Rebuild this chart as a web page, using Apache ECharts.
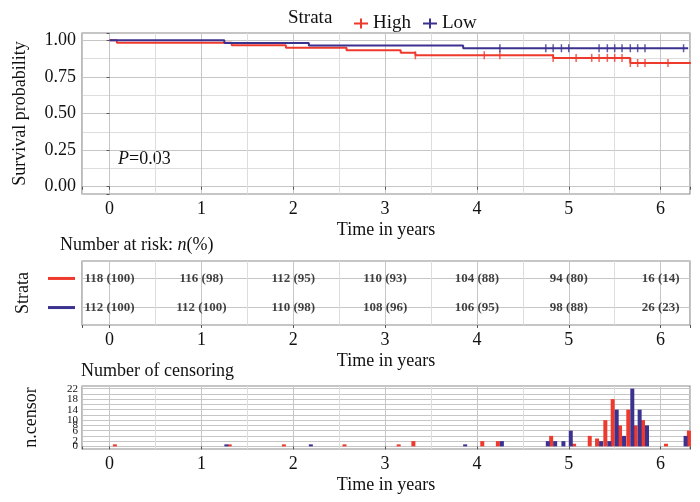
<!DOCTYPE html>
<html>
<head>
<meta charset="utf-8">
<script src="https://cdn.jsdelivr.net/npm/echarts@6/dist/echarts.min.js"></script>
<style>
html,body{margin:0;padding:0;background:#fff}
#chart{width:700px;height:502px}
</style>
</head>
<body>
<div id="chart"></div>
<script>
// survival curves (step points)
const highTime = [0, 0.08, 1.33, 1.92, 2.58, 3.17, 3.33, 4.83, 5.67, 6.33];
const highSurv = [1, 0.983, 0.966, 0.949, 0.932, 0.915, 0.898, 0.880, 0.845, 0.845];
const lowTime = [0, 1.25, 2.17, 3.85, 6.3];
const lowSurv = [1, 0.982, 0.964, 0.946, 0.946];

// number of censoring per time (0 = event time only)
const highCensorTime = [0.08, 1.33, 1.92, 2.58, 3.17, 3.33, 4.08, 4.25, 4.83, 5.08, 5.25, 5.33, 5.42, 5.5, 5.58, 5.67, 5.75, 5.83, 6.08, 6.33];
const highCensorN = [0, 0, 0, 0, 0, 2, 2, 2, 4, 1, 4, 3, 10, 18, 8, 14, 8, 10, 1, 6];
const lowCensorTime = [1.25, 2.17, 3.85, 4.25, 4.75, 4.83, 4.92, 5.0, 5.33, 5.42, 5.5, 5.58, 5.67, 5.75, 5.83, 6.25];
const lowCensorN = [0, 0, 0, 2, 2, 2, 2, 6, 2, 2, 14, 4, 22, 14, 8, 4];

// number at risk
const riskTimes = [0, 1, 2, 3, 4, 5, 6];
const riskHighN = [118, 116, 112, 110, 104, 94, 16];
const riskHighPct = [100, 98, 95, 93, 88, 80, 14];
const riskLowN = [112, 112, 110, 108, 106, 98, 26];
const riskLowPct = [100, 100, 98, 96, 95, 88, 23];

const censorLabels = [0, 2, 6, 8, 10, 14, 18, 22];

const serif = 'Liberation Serif';
const red = '#ee3a2c';
const blue = '#3b3290';
const major = '#c6c6c6';
const minor = '#dddddd';

function survAt(times, surv, t) {
  let s = surv[0];
  for (let i = 0; i < times.length; i++) if (times[i] <= t) s = surv[i];
  return s;
}

function censorMarks(ct, cn, times, surv) {
  const out = [];
  ct.forEach((t, i) => { if (cn[i] > 0) out.push([t, survAt(times, surv, t)]); });
  return out;
}

function timeAxis(gi) {
  return {
    type: 'value', gridIndex: gi, min: -0.3, max: 6.32, minInterval: 1, maxInterval: 1,
    name: 'Time in years', nameLocation: 'middle', nameGap: 27,
    nameTextStyle: {fontFamily: serif, fontSize: 18, color: '#111'},
    axisLine: {show: false},
    axisTick: {show: true, length: 3, lineStyle: {color: '#555'}},
    axisLabel: {fontFamily: serif, fontSize: 18, color: '#111', margin: 6,
      formatter: v => Number.isInteger(v) ? String(v) : ''},
    splitLine: {lineStyle: {color: major}},
    minorTick: {show: false, splitNumber: 2},
    minorSplitLine: {show: true, lineStyle: {color: minor}}
  };
}

const gridBase = {left: 82, right: 10, show: true, borderColor: '#8c8c8c', borderWidth: 1.2, backgroundColor: '#fff'};

const chart = echarts.init(document.getElementById('chart'));
chart.setOption({
  animation: false,
  grid: [
    Object.assign({top: 33, height: 161}, gridBase),
    Object.assign({top: 261, height: 64}, gridBase),
    Object.assign({top: 386, height: 63}, gridBase)
  ],
  legend: {
    left: 349, top: 9, itemWidth: 14, itemHeight: 10, itemGap: 12,
    textStyle: {fontFamily: serif, fontSize: 19, color: '#111'},
    data: [
      {name: 'High', icon: 'path://M0,4L14,4L14,6L0,6Z M6,0L8,0L8,10L6,10Z'},
      {name: 'Low', icon: 'path://M0,4L14,4L14,6L0,6Z M6,0L8,0L8,10L6,10Z'}
    ]
  },
  graphic: [
    {type: 'text', left: 288, top: 9, style: {text: 'Strata', fontFamily: serif, fontSize: 19, fill: '#111'}},
    {type: 'text', left: 118, top: 150, style: {text: '{i|P}=0.03', fontFamily: serif, fontSize: 18, fill: '#111',
      rich: {i: {fontFamily: serif, fontSize: 18, fontStyle: 'italic', fill: '#111'}}}},
    {type: 'text', left: 60, top: 236, style: {text: 'Number at risk: {i|n}(%)', fontFamily: serif, fontSize: 18, fill: '#111',
      rich: {i: {fontFamily: serif, fontSize: 18, fontStyle: 'italic', fill: '#111'}}}},
    {type: 'text', left: 81, top: 362, style: {text: 'Number of censoring', fontFamily: serif, fontSize: 18, fill: '#111'}}
  ],
  xAxis: [timeAxis(0), timeAxis(1), timeAxis(2)],
  yAxis: [
    {
      type: 'value', gridIndex: 0, min: -0.05, max: 1.05, minInterval: 0.25, maxInterval: 0.25,
      name: 'Survival probability', nameLocation: 'middle', nameGap: 53,
      nameTextStyle: {fontFamily: serif, fontSize: 18, color: '#111'},
      axisLine: {show: false},
      axisTick: {show: true, length: 3, lineStyle: {color: '#555'}},
      axisLabel: {fontFamily: serif, fontSize: 18, color: '#111', margin: 6,
        formatter: v => Math.abs(v * 4 - Math.round(v * 4)) < 1e-9 ? v.toFixed(2) : ''},
      splitLine: {lineStyle: {color: major}},
      minorTick: {show: false, splitNumber: 2},
      minorSplitLine: {show: true, lineStyle: {color: minor}}
    },
    {
      type: 'value', gridIndex: 1, min: 0.4, max: 2.6, minInterval: 1, maxInterval: 1,
      name: 'Strata', nameLocation: 'middle', nameGap: 50,
      nameTextStyle: {fontFamily: serif, fontSize: 18, color: '#111'},
      axisLine: {show: false},
      axisTick: {show: false},
      axisLabel: {margin: 7,
        formatter: v => v === 2 ? '{h| }' : (v === 1 ? '{l| }' : ''),
        rich: {
          h: {width: 27, height: 3, lineHeight: 3, fontSize: 1, backgroundColor: red},
          l: {width: 27, height: 3, lineHeight: 3, fontSize: 1, backgroundColor: blue}
        }},
      splitLine: {lineStyle: {color: major}}
    },
    {
      type: 'value', gridIndex: 2, min: -1, max: 23, interval: 1,
      name: 'n.censor', nameLocation: 'middle', nameGap: 42,
      nameTextStyle: {fontFamily: serif, fontSize: 18, color: '#111'},
      axisLine: {show: false},
      axisTick: {show: false},
      axisLabel: {fontFamily: serif, fontSize: 11, color: '#111', margin: 4,
        formatter: v => censorLabels.indexOf(v) >= 0 ? String(v) : ''},
      splitLine: {lineStyle: {color: ['rgba(0,0,0,0)', major]}}
    }
  ],
  series: [
    {name: 'High', type: 'line', xAxisIndex: 0, yAxisIndex: 0, step: 'end', symbol: 'none',
      lineStyle: {width: 2, color: red}, itemStyle: {color: red},
      data: highTime.map((t, i) => [t, highSurv[i]])},
    {name: 'High', type: 'scatter', xAxisIndex: 0, yAxisIndex: 0, symbol: 'rect', symbolSize: [1.5, 8],
      itemStyle: {color: red}, data: censorMarks(highCensorTime, highCensorN, highTime, highSurv)},
    {name: 'Low', type: 'line', xAxisIndex: 0, yAxisIndex: 0, step: 'end', symbol: 'none',
      lineStyle: {width: 2, color: blue}, itemStyle: {color: blue},
      data: lowTime.map((t, i) => [t, lowSurv[i]])},
    {name: 'Low', type: 'scatter', xAxisIndex: 0, yAxisIndex: 0, symbol: 'rect', symbolSize: [1.5, 8],
      itemStyle: {color: blue}, data: censorMarks(lowCensorTime, lowCensorN, lowTime, lowSurv)},
    {name: 'riskHigh', type: 'scatter', xAxisIndex: 1, yAxisIndex: 1, symbolSize: 1,
      itemStyle: {color: 'rgba(0,0,0,0)'},
      label: {show: true, position: 'inside', formatter: '{b}', fontFamily: serif, fontSize: 13, fontWeight: 'bold', color: '#111'},
      data: riskTimes.map((t, i) => ({name: riskHighN[i] + ' (' + riskHighPct[i] + ')', value: [t, 2]}))},
    {name: 'riskLow', type: 'scatter', xAxisIndex: 1, yAxisIndex: 1, symbolSize: 1,
      itemStyle: {color: 'rgba(0,0,0,0)'},
      label: {show: true, position: 'inside', formatter: '{b}', fontFamily: serif, fontSize: 13, fontWeight: 'bold', color: '#111'},
      data: riskTimes.map((t, i) => ({name: riskLowN[i] + ' (' + riskLowPct[i] + ')', value: [t, 1]}))},
    {name: 'High', type: 'bar', xAxisIndex: 2, yAxisIndex: 2, barWidth: 4, barGap: '0%', barMinHeight: 2,
      itemStyle: {color: red}, data: highCensorTime.map((t, i) => [t, highCensorN[i]])},
    {name: 'Low', type: 'bar', xAxisIndex: 2, yAxisIndex: 2, barWidth: 4, barGap: '0%', barMinHeight: 2,
      itemStyle: {color: blue}, data: lowCensorTime.map((t, i) => [t, lowCensorN[i]])}
  ]
});
</script>
</body>
</html>
